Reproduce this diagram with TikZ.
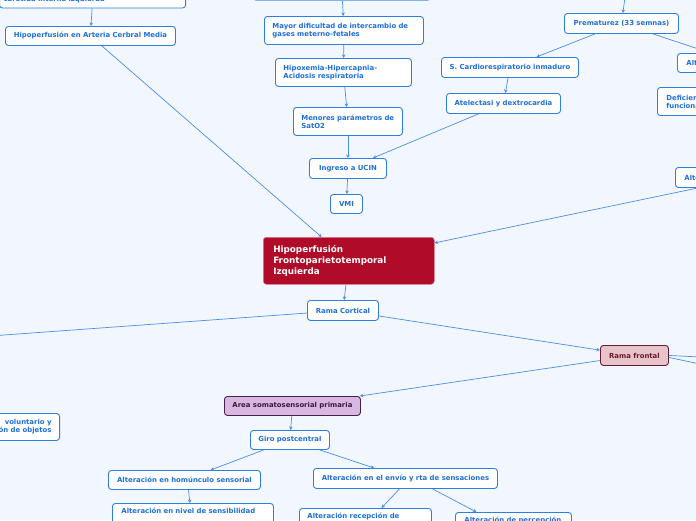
\documentclass[tikz,border=0pt]{standalone}
\usepackage{fontspec}
\setmainfont{DejaVu Sans}
\usetikzlibrary{arrows.meta}
\definecolor{bg}{HTML}{F2F6FE}
\definecolor{bord}{HTML}{2D7FE0}
\definecolor{txt}{HTML}{1F6FD8}
\definecolor{lnkc}{HTML}{4A90E2}
\definecolor{mainred}{HTML}{B00C2A}
\definecolor{mainbord}{HTML}{E07A8C}
\definecolor{pinkf}{HTML}{E6C4C9}
\definecolor{pinkd}{HTML}{6B1A2C}
\definecolor{lilac}{HTML}{D8B7E0}
\definecolor{lilacd}{HTML}{48204F}
\begin{document}
\begin{tikzpicture}[x=1pt,y=-1pt,
  box/.style={draw=bord, fill=white, rounded corners=3pt, line width=0.9pt,
    text=txt, font=\fontsize{6.9}{8}\selectfont\bfseries, anchor=north west,
    inner sep=0pt, align=left},
  lk/.style={draw=lnkc, line width=0.7pt},
  arr/.style={lk, -{Stealth[length=3.5pt,width=3.5pt]}},
]
\useasboundingbox (0,0) rectangle (696,520);
\fill[bg] (0,0) rectangle (696,520);
\clip (0,0) rectangle (696,520);

% top left branch
\node[box, anchor=east, text width=178pt, inner xsep=4pt, minimum height=16pt] (carot) at (186,0) {carotida interna izquierda};
\node[box, minimum width=170pt, minimum height=19pt] (acm) at (5,26) {Hipoperfusión en Arteria Cerbral Media};

% top center chain
\node[box, draw=bord!60, minimum width=177pt, minimum height=20pt] (topc) at (253,-20) {};
\node[box, text width=143pt, inner xsep=8pt, minimum height=28pt] (mayor) at (264,16) {Mayor dificultad de intercambio de\\gases meterno-fetales};
\node[box, text width=120pt, inner xsep=8pt, minimum height=28pt] (hipox) at (275,58) {Hipoxemia-Hipercapnia-\\Acidosis respiratoria};
\node[box, text width=93pt, inner xsep=8pt, minimum height=28pt] (menores) at (293,107) {Menores parámetros de\\SatO2};
\node[box, minimum width=77pt, minimum height=20pt] (ucin) at (309,158) {Ingreso a UCIN};
\node[box, minimum width=32pt, minimum height=19pt] (vmi) at (330,194) {VMI};

% top right
\coordinate (topr) at (626,-10);
\node[box, minimum width=114pt, minimum height=20pt] (prem) at (564,13) {Prematurez (33 semnas)};
\node[box, minimum width=137pt, minimum height=20pt] (scard) at (441,57) {S. Cardiorespiratorio inmaduro};
\node[box, minimum width=114pt, minimum height=20pt] (atel) at (446,93) {Atelectasi y dextrocardia};
\node[box, text width=40pt, inner xsep=9pt, minimum height=19pt] (alt1) at (677,53) {Alt};
\node[box, text width=60pt, inner xsep=9pt, minimum height=28pt] (def) at (657,87) {Deficien\\funciona};
\node[box, text width=40pt, inner xsep=9pt, minimum height=20pt] (alt2) at (675,167) {Alte};
\coordinate (c1) at (700,49.5);
\coordinate (c2) at (700,187.5);

% main
\node[anchor=north west, fill=mainred, draw=mainbord, line width=0.5pt, rounded corners=3pt,
  text=white, font=\fontsize{8.8}{11}\selectfont\bfseries, align=left,
  text width=151pt, inner xsep=10pt, minimum height=47pt] (main) at (263,237)
  {Hipoperfusión\\Frontoparietotemporal\\Izquierda};

\node[box, minimum width=71pt, minimum height=20pt] (rcort) at (307,300) {Rama Cortical};
\coordinate (cl) at (-10,336);
\node[box, fill=pinkf, draw=pinkd, text=pinkd, minimum width=68pt, minimum height=20pt] (rfront) at (600,345) {Rama frontal};
\coordinate (cr1) at (700,357);
\coordinate (cr2) at (700,364);

\node[box, anchor=north east, align=right, inner xsep=8pt, minimum height=27pt] (vol) at (60,413) {voluntario y\\ón de objetos};

\node[box, fill=lilac, draw=lilacd, text=lilacd!80!black, minimum width=136pt, minimum height=19pt] (area) at (224,396) {Area somatosensorial primaria};
\node[box, minimum width=79pt, minimum height=19pt] (giro) at (250,430) {Giro postcentral};
\node[box, minimum width=152pt, minimum height=19pt] (homun) at (108,470) {Alteración en homúnculo sensorial};
\node[box, minimum width=184pt, minimum height=20pt] (envio) at (313,468) {Alteración en el envío y rta de sensaciones};
\node[box, text width=143pt, inner xsep=9pt, inner ysep=4.5pt, text depth=25pt] (nivel) at (112,503) {Alteración en nivel de sensibilidad};
\node[box, text width=116pt, inner xsep=8pt, inner ysep=5pt, text depth=25pt] (recep) at (299,508) {Alteración recepción de};
\node[box, text width=98pt, inner xsep=9pt, inner ysep=5pt, text depth=25pt] (percep) at (455,512) {Alteración de percepción};

% connectors
\draw[arr] (carot) -- (acm);
\draw[arr] (topc) -- (mayor);
\draw[arr] (mayor) -- (hipox);
\draw[arr] (hipox) -- (menores);
\draw[arr] (menores) -- (ucin);
\draw[arr] (ucin) -- (vmi);
\draw[arr] (topr) -- (prem);
\draw[arr] (prem) -- (scard);
\draw[arr] (scard) -- (atel);
\draw[arr] (atel) -- (ucin);
\draw[lk] (prem) -- (c1);
\draw[arr] (c2) -- (main);
\draw[arr] (acm) -- (main);
\draw[arr] (main) -- (rcort);
\draw[lk] (rcort) -- (cl);
\draw[arr] (rcort) -- (rfront);
\draw[lk] (rfront.east) -- (cr1);
\draw[lk] ([yshift=-2pt]rfront.east) -- (cr2);
\draw[arr] (rfront) -- (area);
\draw[arr] (area) -- (giro);
\draw[arr] (giro) -- (homun);
\draw[arr] (giro) -- (envio);
\draw[arr] ([xshift=4pt]homun.south) -- ([xshift=-3pt]nivel.north);
\draw[arr] ([xshift=-6pt]envio.south) -- ([xshift=16pt]recep.north);
\draw[arr] ([xshift=27pt]envio.south) -- ([xshift=-37pt]percep.north);
\end{tikzpicture}
\end{document}
